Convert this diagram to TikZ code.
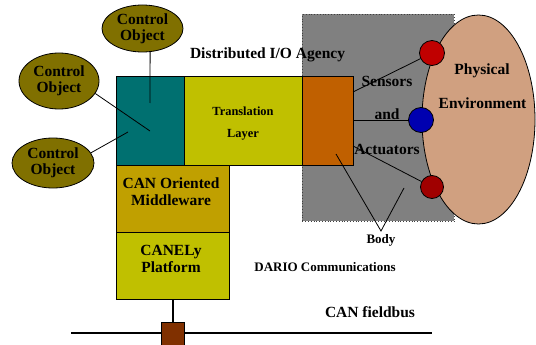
\documentclass[tikz,border=0pt]{standalone}
\usepackage{fontspec}
\setmainfont{Liberation Serif}
\usetikzlibrary{shapes.geometric}

\definecolor{objolive}{RGB}{128,112,0}
\definecolor{teal}{RGB}{0,112,112}
\definecolor{layeryellow}{RGB}{192,192,0}
\definecolor{midgold}{RGB}{192,160,0}
\definecolor{bodyorange}{RGB}{192,96,0}
\definecolor{agencygray}{RGB}{128,128,128}
\definecolor{envtan}{RGB}{208,160,128}
\definecolor{sensred}{RGB}{192,0,0}
\definecolor{actred}{RGB}{160,0,0}
\definecolor{sensblue}{RGB}{0,0,176}
\definecolor{tapbrown}{RGB}{128,48,0}

\begin{document}
\begin{tikzpicture}[x=1pt,y=-1pt,
  box/.style={draw=black, line width=0.8pt, anchor=north west, inner sep=0pt},
  ctrl/.style={ellipse, draw=black, line width=0.8pt, fill=objolive, inner sep=0pt,
    minimum width=81pt, minimum height=47pt, align=center,
    font=\bfseries\fontsize{15.5}{16}\selectfont},
  big/.style={anchor=base, inner sep=0pt, font=\bfseries\fontsize{15.5}{16}\selectfont},
  mid/.style={anchor=base, inner sep=0pt, font=\bfseries\fontsize{13}{14}\selectfont},
  small/.style={anchor=base, inner sep=0pt, font=\bfseries\fontsize{12.4}{13}\selectfont},
  wire/.style={draw=black, line width=0.8pt},
  bus/.style={draw=black, line width=1.4pt},
  dot/.style={circle, draw=black, line width=0.8pt, inner sep=0pt}
]
\useasboundingbox (0,0) rectangle (536,345);

% distributed I/O agency area and the physical environment
\node[box, draw=black!75, dotted, fill=agencygray,
      minimum width=152pt, minimum height=207pt] (agency) at (302,14) {};
\node[ellipse, draw=black, line width=0.8pt, fill=envtan, inner sep=0pt,
      minimum width=113pt, minimum height=209pt] (env) at (478.5,119.5) {};

% protocol stack
\node[box, fill=teal, minimum width=68pt, minimum height=89pt] (iface) at (116,76) {};
\node[box, fill=layeryellow, minimum width=118pt, minimum height=89pt] (trans) at (184,76) {};
\node[box, fill=bodyorange, minimum width=51pt, minimum height=89pt] (body) at (302,76) {};
\node[box, fill=midgold, minimum width=113pt, minimum height=67pt] (mw) at (116,165) {};
\node[box, fill=layeryellow, minimum width=113pt, minimum height=67pt] (canely) at (116,232) {};

% fieldbus and its tap
\coordinate (busL) at (71,333);
\coordinate (busR) at (432,333);
\draw[bus] (busL) -- (busR);
\node[box, fill=tapbrown, minimum width=23pt, minimum height=24pt] (tap) at (161,322) {};
\draw[bus] (canely.south -| tap.north) -- (tap.north);

% control objects
\node[ctrl] (co1) at (142.5,28.5) {Control\\Object};
\node[ctrl, minimum width=80pt, minimum height=56pt] (co2) at (59,81) {Control\\Object};
\node[ctrl, minimum width=82pt, minimum height=50pt] (co3) at (53,163) {Control\\Object};
\coordinate (h1) at (150,103);
\coordinate (h2) at (150,131);
\coordinate (h3) at (128,132);
\draw[wire] (co1.-72) -- (h1);
\draw[wire] (co2.-19) -- (h2);
\draw[wire] (co3.15) -- (h3);

% sensors and actuators
\node[dot, fill=sensred, minimum size=25pt] (sens) at (432,53) {};
\node[dot, fill=sensblue, minimum size=25pt] (mixd) at (421,120) {};
\node[dot, fill=actred, minimum size=23pt] (act) at (432,187) {};
\coordinate (p1) at (353,92);
\coordinate (p2) at (353,120);
\coordinate (p3) at (353,146);
\draw[wire] (p1) -- (sens);
\draw[wire] (p2) -- (mixd);
\draw[wire] (p3) -- (act);

% body pointer
\coordinate (b1) at (336,154);
\coordinate (b2) at (404,188);
\coordinate (bj) at (381,231);
\draw[wire] (b1) -- (bj) -- (b2);

% labels
\node[big] (lagency) at (267.5,59) {Distributed I/O Agency};
\node[small] (ltrans1) at (243,115) {Translation};
\node[small] (ltrans2) at (243,138) {Layer};
\node[big] (lmw1) at (171,188) {CAN Oriented};
\node[big] (lmw2) at (171,205) {Middleware};
\node[big] (lcan1) at (171,255.5) {CANELy};
\node[big] (lcan2) at (171,272) {Platform};
\node[big] (lsens) at (387,87) {Sensors};
\node[big] (land) at (387,120) {and};
\node[big] (lact) at (387,154) {Actuators};
\node[big] (lenv1) at (482,75) {Physical};
\node[big] (lenv2) at (482.5,109) {Environment};
\node[mid] (lbody) at (381,243) {Body};
\node[mid] (ldario) at (325,271) {DARIO Communications};
\node[big] (lbus) at (370,317) {CAN fieldbus};
\end{tikzpicture}
\end{document}
